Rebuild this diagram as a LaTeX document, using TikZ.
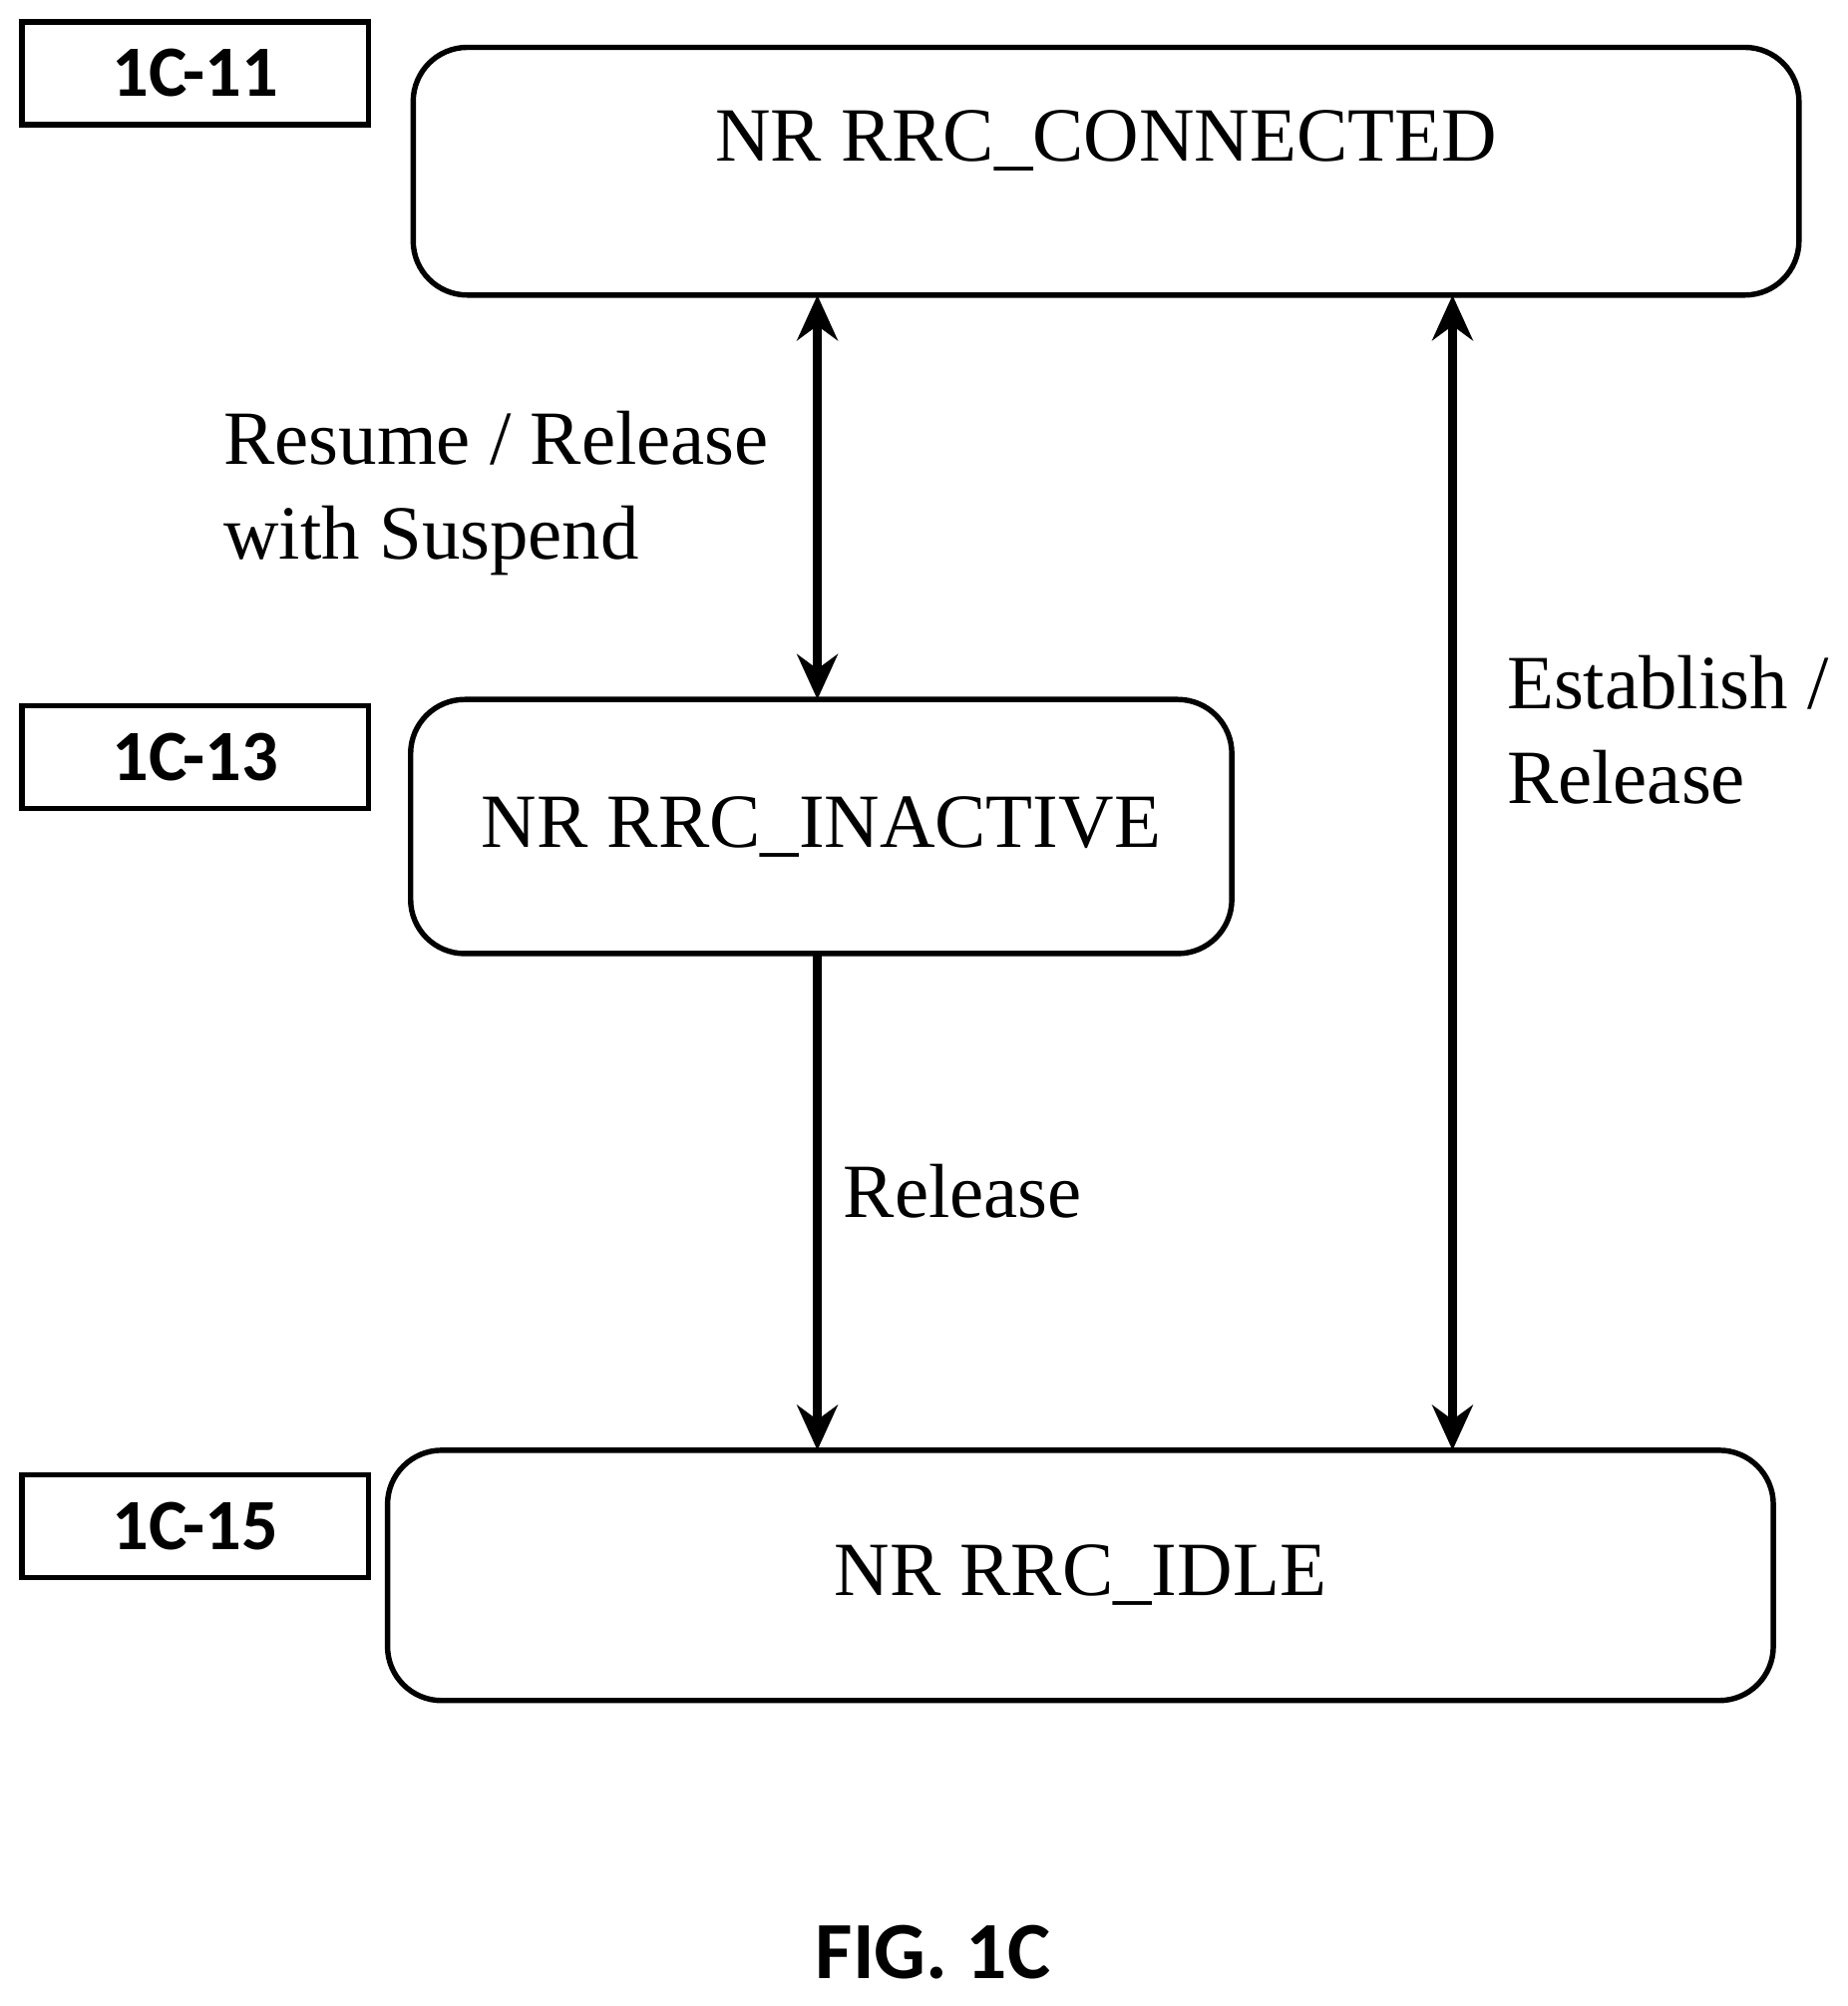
\documentclass[tikz,border=0pt]{standalone}
\usepackage{fontspec}
\setmainfont{Liberation Serif}
\newfontfamily\labelfont{Carlito}
\usetikzlibrary{arrows.meta}

\begin{document}
\begin{tikzpicture}[
    state/.style={draw, line width=1.2pt, rounded corners=12pt, font=\fontsize{17}{20}\selectfont},
    tag/.style={draw, line width=1.2pt, minimum width=2.7cm, minimum height=0.8cm, font=\labelfont\bfseries\fontsize{16}{19}\selectfont},
    trans/.style={line width=2pt, {Stealth[length=10pt,width=9pt]}-{Stealth[length=10pt,width=9pt]}},
    txt/.style={font=\fontsize{17}{21}\selectfont, align=left}
  ]

  \useasboundingbox (0, 0) rectangle (14.4, 15.63);

  % states
  \node[state, minimum width=10.8cm, minimum height=1.93cm, text depth=0.55cm] (conn) at (8.62, 14.296) {NR RRC\_CONNECTED};
  \node[state, minimum width=6.4cm, minimum height=1.98cm] (inact) at (6.4, 9.19) {NR RRC\_INACTIVE};
  \node[state, minimum width=10.8cm, minimum height=1.95cm] (idle) at (8.42, 3.355) {NR RRC\_IDLE};

  % reference tags
  \node[tag] (t11) at (1.52, 15.06) {1C-11};
  \node[tag] (t13) at (1.52, 9.73) {1C-13};
  \node[tag] (t15) at (1.52, 3.74) {1C-15};

  % transitions
  \coordinate (c1) at (6.37, 13.33);
  \coordinate (c2) at (11.32, 13.33);
  \coordinate (d1) at (6.37, 10.18);
  \coordinate (d2) at (6.37, 8.20);
  \coordinate (e1) at (6.37, 4.33);
  \coordinate (e2) at (11.32, 4.33);
  \draw[trans] (c1) -- (d1);
  \draw[line width=2pt, -{Stealth[length=10pt,width=9pt]}] (d2) -- (e1);
  \draw[trans] (c2) -- (e2);

  \node[txt, anchor=north west] (l1) at (1.62, 12.55) {Resume / Release\\with Suspend};
  \node[txt, anchor=west] (l2) at (6.45, 6.35) {Release};
  \node[txt, anchor=north west] (l3) at (11.62, 10.65) {Establish /\\Release};

  \node[font=\labelfont\bfseries\fontsize{18}{22}\selectfont] (fig) at (7.27, 0.42) {FIG. 1C};

\end{tikzpicture}
\end{document}
